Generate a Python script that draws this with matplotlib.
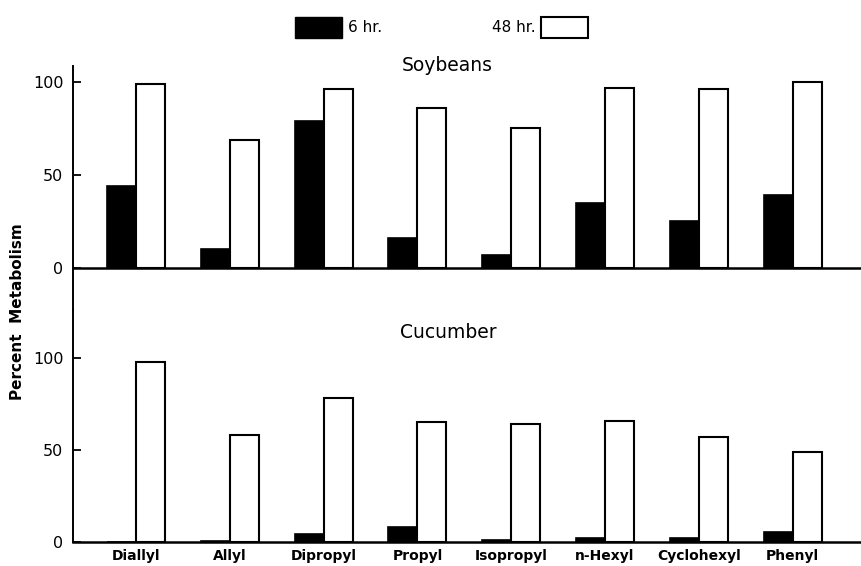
import matplotlib.pyplot as plt
import matplotlib.patches as mpatches
import numpy as np

plt.rcParams['font.family'] = ['DejaVu Sans']

compounds = ['Diallyl', 'Allyl', 'Dipropyl', 'Propyl', 'Isopropyl',
             'n-Hexyl', 'Cyclohexyl', 'Phenyl']

# percent metabolism after 6 hr and 48 hr
soy_6 = [44, 10, 79, 16, 7, 35, 25, 39]
soy_48 = [99, 69, 96, 86, 75, 97, 96, 100]
cuc_6 = [0, 0.5, 4.5, 8, 1, 2, 2, 5.5]
cuc_48 = [98, 58, 78, 65, 64, 66, 57, 49]

W, H = 862, 566
fig = plt.figure(figsize=(W / 100, H / 100), dpi=100)

left = 73 / W
split = 1 - 310 / H
ax_top = fig.add_axes([left, split, 1 - left, (310 - 66) / H])
ax_bot = fig.add_axes([left, 1 - 542 / H, 1 - left, (542 - 310) / H])

x = np.arange(len(compounds))
w = 0.309


def draw_panel(ax, v6, v48):
    ax.bar(x - w / 2, v6, w, color='black', edgecolor='black', linewidth=1.2)
    ax.bar(x + w / 2, v48, w, color='white', edgecolor='black', linewidth=1.5)
    ax.set_xlim(-0.672, 7.74)
    ax.set_yticks([0, 50, 100])
    ax.tick_params(axis='y', direction='in', length=6, width=1.3,
                   labelsize=11.5, pad=7)
    for s in ['top', 'right']:
        ax.spines[s].set_visible(False)
    ax.spines['left'].set_linewidth(1.4)


draw_panel(ax_top, soy_6, soy_48)
ax_top.set_ylim(-22.6, 108.6)
ax_top.spines['bottom'].set_visible(False)
ax_top.axhline(0, color='black', lw=1.8, zorder=0)
ax_top.set_xticks([])

draw_panel(ax_bot, cuc_6, cuc_48)
ax_bot.set_ylim(0, 126.1)
ax_bot.spines['bottom'].set_linewidth(1.8)
ax_bot.set_xticks(x)
ax_bot.set_xticklabels(compounds, fontsize=10, fontweight='bold')
ax_bot.tick_params(axis='x', length=0, pad=5)

fig.text(447 / W, 1 - 66 / H, 'Soybeans', ha='center', va='center', fontsize=13.5)
fig.text(448 / W, 1 - 333 / H, 'Cucumber', ha='center', va='center', fontsize=13.5)
fig.text(18 / W, 1 - 312 / H, 'Percent  Metabolism', rotation=90,
         ha='center', va='center', fontsize=11, fontweight='bold')

# legend: filled box before "6 hr.", open box after "48 hr."
h6 = mpatches.Patch(facecolor='black', edgecolor='black')
h48 = mpatches.Patch(facecolor='white', edgecolor='black', linewidth=1.5)
common = dict(frameon=False, fontsize=11, handlelength=3.1, handleheight=1.8,
              handletextpad=0.35, borderpad=0, borderaxespad=0)
fig.legend([h6], ['6 hr.'], loc='center left',
           bbox_to_anchor=(295 / W, 1 - 27.5 / H), **common)
fig.legend([h48], ['48 hr.'], loc='center right', markerfirst=False,
           bbox_to_anchor=(588 / W, 1 - 27.5 / H), **common)

fig.savefig('out.png', dpi=100)
